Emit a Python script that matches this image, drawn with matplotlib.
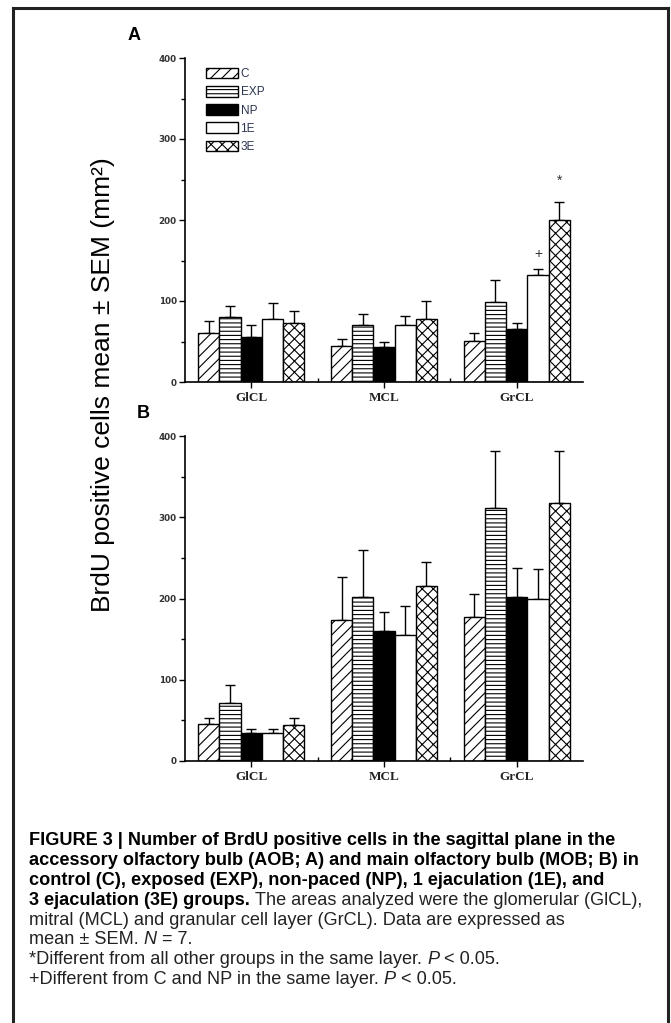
import matplotlib
matplotlib.use('Agg')
import matplotlib.pyplot as plt
from matplotlib.patches import Patch
from matplotlib.lines import Line2D
import numpy as np

# layers on the x axis and groups drawn as bars
layers = ['GlCL', 'MCL', 'GrCL']
groups = ['C', 'EXP', 'NP', '1E', '3E']

# panel A (AOB): one row per group, values per layer
aob_mean = [[60, 45, 51],
            [80, 70, 99],
            [55, 43, 66],
            [78, 70, 132],
            [73, 78, 200]]
aob_sem = [[15, 8, 10],
           [14, 14, 27],
           [15, 6, 7],
           [20, 12, 7],
           [15, 22, 22]]

# panel B (MOB)
mob_mean = [[46, 174, 177],
            [72, 202, 311],
            [34, 160, 202],
            [34, 155, 199],
            [44, 216, 318]]
mob_sem = [[7, 53, 29],
           [22, 58, 71],
           [5, 24, 36],
           [5, 36, 37],
           [9, 29, 63]]

# significance marks in panel A: (symbol, layer index, group index, gap above error bar)
aob_marks = [('+', 2, 3, 10), ('*', 2, 4, 18)]

yticks = [0, 100, 200, 300, 400]

faces = ['white', 'white', 'black', 'white', 'white']
hatches = ['///', '----', '', '', 'xxx']

W, H = 671, 1023
plt.rcParams['hatch.linewidth'] = 0.8
plt.rcParams['font.family'] = ['Liberation Sans', 'DejaVu Sans']

fig = plt.figure(figsize=(W / 100, H / 100), dpi=100)
renderer = fig.canvas.get_renderer()


def px(x, y):
    return x / W, 1 - y / H


def bar_panel(ax, means, sems):
    x = np.arange(len(layers))
    bw = 0.16
    for i, g in enumerate(groups):
        pos = x + (i - 2) * bw
        ax.bar(pos, means[i], bw, color=faces[i], edgecolor='black',
               hatch=hatches[i], linewidth=1.0, zorder=2)
        ax.errorbar(pos, means[i], yerr=[np.zeros(len(layers)), sems[i]],
                    fmt='none', ecolor='black', elinewidth=1.0,
                    capsize=3.5, capthick=1.0, zorder=1)
    ax.set_xlim(-0.5, 2.5)
    ax.set_ylim(0, 400)
    for s in ['top', 'right']:
        ax.spines[s].set_visible(False)
    for s in ['left', 'bottom']:
        ax.spines[s].set_linewidth(1.2)
    ax.set_yticks(yticks)
    ax.set_yticks([50, 150, 250, 350], minor=True)
    ax.set_xticks(x)
    ax.set_xticks([0.5, 1.5], minor=True)
    ax.set_xticklabels(layers, family='Liberation Serif', fontweight='bold',
                       fontsize=9.5, color='#222222')
    for lab in ax.get_yticklabels():
        lab.set_family('DejaVu Sans')
        lab.set_fontweight('bold')
        lab.set_fontsize(6.3)
        lab.set_color('#333333')
    ax.tick_params(axis='y', which='major', direction='out', length=4.5,
                   width=1, pad=1.5)
    ax.tick_params(axis='y', which='minor', direction='out', length=3,
                   width=1)
    ax.tick_params(axis='x', which='major', direction='out', length=4,
                   width=1, pad=3)
    ax.tick_params(axis='x', which='minor', direction='in', length=3,
                   width=1)


# panel A
axA = fig.add_axes([185 / W, 1 - 382 / H, 398 / W, 324 / H])
bar_panel(axA, aob_mean, aob_sem)
for sym, li, gi, gap in aob_marks:
    xm = li + (gi - 2) * 0.16
    top = aob_mean[gi][li] + aob_sem[gi][li]
    axA.text(xm, top + gap, sym, ha='center', va='bottom', fontsize=10,
             color='#333333')

handles = [Patch(facecolor=faces[i], edgecolor='black', hatch=hatches[i],
                 linewidth=1.0, label=g) for i, g in enumerate(groups)]
leg = axA.legend(handles=handles, loc='upper left',
                 bbox_to_anchor=(0.052, 0.97), frameon=False, fontsize=8.5,
                 handlelength=2.75, handleheight=1.0, labelspacing=0.5,
                 handletextpad=0.2, borderpad=0, borderaxespad=0)
for t in leg.get_texts():
    t.set_color('#2b3550')

# panel B
axB = fig.add_axes([185 / W, 1 - 761 / H, 398 / W, 325 / H])
bar_panel(axB, mob_mean, mob_sem)

# panel letters and shared y label
fig.text(*px(128, 35), 'A', fontsize=13, fontweight='bold', va='center')
fig.text(*px(137, 413), 'B', fontsize=13, fontweight='bold', va='center')
fig.text(*px(103, 385), 'BrdU positive cells mean \u00b1 SEM (mm\u00b2)',
         rotation=90, fontsize=19, ha='center', va='center')

# frame around the figure
lk = dict(color='#222222', linewidth=2.2, transform=fig.transFigure)
fig.add_artist(Line2D([13 / W, 13 / W], [0, 1 - 8 / H], **lk))
fig.add_artist(Line2D([668 / W, 668 / W], [0, 1 - 8 / H], **lk))
fig.add_artist(Line2D([13 / W, 668 / W], [1 - 8 / H, 1 - 8 / H], **lk))

# caption
cap_lines = [
    [('FIGURE 3 | Number of BrdU positive cells in the sagittal plane in the', 'bold', 'normal')],
    [('accessory olfactory bulb (AOB; A) and main olfactory bulb (MOB; B) in', 'bold', 'normal')],
    [('control (C), exposed (EXP), non-paced (NP), 1 ejaculation (1E), and', 'bold', 'normal')],
    [('3 ejaculation (3E) groups. ', 'bold', 'normal'),
     ('The areas analyzed were the glomerular (GlCL),', 'normal', 'normal')],
    [('mitral (MCL) and granular cell layer (GrCL). Data are expressed as', 'normal', 'normal')],
    [('mean \u00b1 SEM. ', 'normal', 'normal'), ('N', 'normal', 'italic'),
     (' = 7.', 'normal', 'normal')],
    [('*Different from all other groups in the same layer. ', 'normal', 'normal'),
     ('P', 'normal', 'italic'), (' < 0.05.', 'normal', 'normal')],
    [('+Different from C and NP in the same layer. ', 'normal', 'normal'),
     ('P', 'normal', 'italic'), (' < 0.05.', 'normal', 'normal')],
]


def text_width(s, size, weight, style):
    t = fig.text(0, 0, s, fontsize=size, fontweight=weight, fontstyle=style)
    w = t.get_window_extent(renderer).width
    t.remove()
    return w


def space_width(size, weight, style):
    return (text_width('a a', size, weight, style)
            - text_width('aa', size, weight, style))


def line_width(segs, size):
    total = 0
    for s, weight, style in segs:
        n_sp = len(s) - len(s.strip(' '))
        total += text_width(s.strip(' '), size, weight, style)
        total += n_sp * space_width(size, weight, style)
    return total


# pick the caption size so the widest line fits inside the frame
widest = max(line_width(segs, 10) for segs in cap_lines)
cap_size = 10 * 615 / widest

for k, segs in enumerate(cap_lines):
    xc = 29
    yb = 845 + k * 19.9
    for s, weight, style in segs:
        col = 'black' if weight == 'bold' else '#222222'
        lead = len(s) - len(s.lstrip(' '))
        trail = len(s) - len(s.rstrip(' '))
        sp = space_width(cap_size, weight, style)
        xc += lead * sp
        core = s.strip(' ')
        fig.text(*px(xc, yb), core, fontsize=cap_size, fontweight=weight,
                 fontstyle=style, color=col, va='baseline', ha='left')
        xc += text_width(core, cap_size, weight, style) + trail * sp

fig.savefig('out.png', dpi=100)
